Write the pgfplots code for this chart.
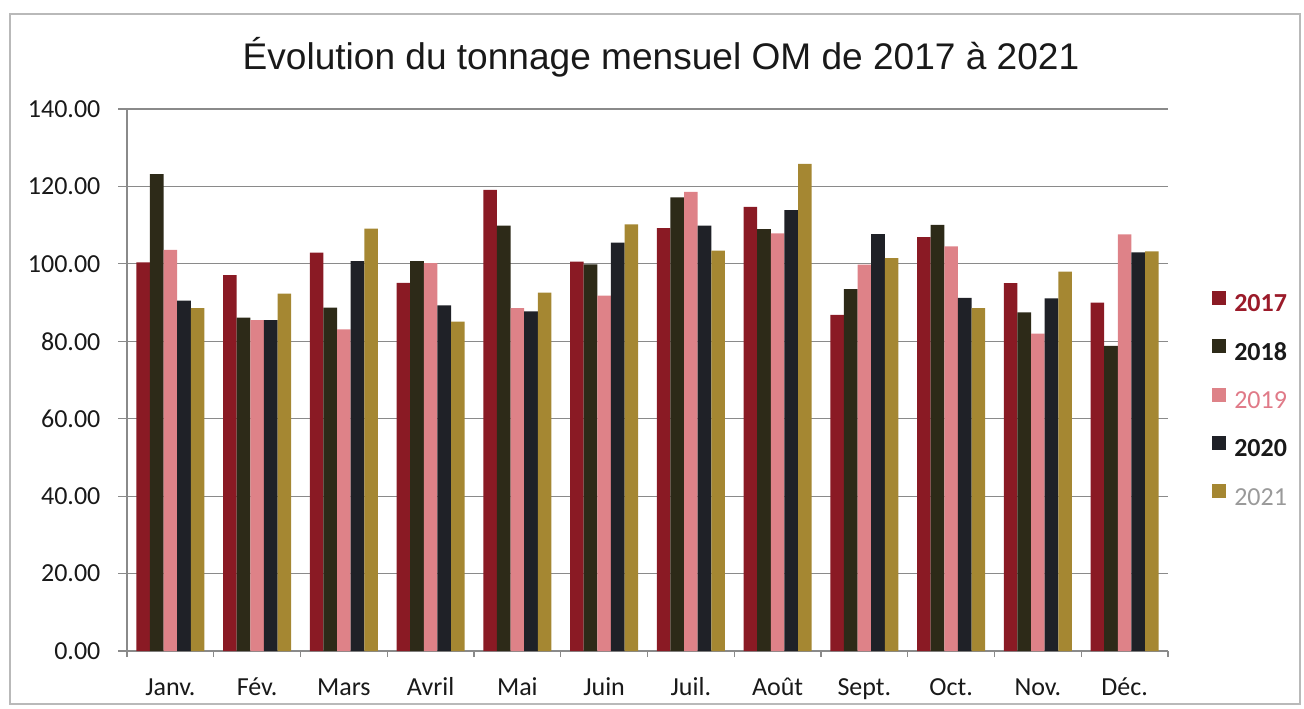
\documentclass[border=0pt]{standalone}
\usepackage{pgfplots}
\pgfplotsset{compat=1.18}
\usepackage{fontspec}
\setmainfont{Carlito}
\newfontfamily\titlefont{Liberation Sans}

\definecolor{c2017}{HTML}{8A1A24}
\definecolor{c2018}{HTML}{2D2A18}
\definecolor{c2019}{HTML}{DE8288}
\definecolor{c2020}{HTML}{1F2127}
\definecolor{c2021}{HTML}{A58732}
\definecolor{t2017}{HTML}{9B1B2A}
\definecolor{t2019}{HTML}{E07A88}
\definecolor{t2021}{HTML}{9A9A9A}
\definecolor{gridc}{HTML}{8A8A8A}

\begin{document}
\begin{tikzpicture}
  \path[use as bounding box] (0,0) rectangle (978pt,-531pt);
  \draw[gray!55, line width=0.9pt] (7.5pt,-10.5pt) rectangle (975pt,-528pt);
  \node[font=\titlefont\fontsize{27.8}{32}\selectfont, text=black!90] at (495.75pt,-42.75pt)
    {Évolution du tonnage mensuel OM de 2017 à 2021};
  \begin{axis}[
      at={(95.25pt,-488.25pt)}, anchor=south west,
      scale only axis, width=780.75pt, height=406.5pt,
      ybar=0pt, bar width=10.2pt,
      xmin=-0.5, xmax=11.5, ymin=0, ymax=140,
      axis x line*=bottom, axis y line*=left,
      axis line style={gridc, line width=0.8pt},
      ytick={0,20,...,140},
      ymajorgrids, grid style={gridc, line width=0.8pt},
      /pgf/number format/fixed, /pgf/number format/fixed zerofill, /pgf/number format/precision=2,
      /pgf/number format/assume math mode=true,
      tick align=outside,
      major y tick style={gridc, line width=0.8pt},
      major tick length=6.75pt,
      ticklabel style={font=\fontsize{19.5}{22}\selectfont, text=black!90},
      yticklabel style={inner xsep=13pt},
      xtick={0,...,11},
      xticklabels={Janv., Fév., Mars, Avril, Mai, Juin, Juil., Août, Sept., Oct., Nov., Déc.},
      major x tick style={draw=none},
      xticklabel style={anchor=north, text height=15pt, text depth=4pt, yshift=-8pt},
      extra x ticks={-0.5,0.5,...,11.5}, extra x tick labels={},
      extra x tick style={major tick length=4.5pt, major x tick style={draw=gridc, line width=0.8pt}, xmajorgrids=false},
      legend style={draw=none, fill=none, at={(1.0423,0.4668)}, anchor=west,
        font=\fontsize{19.5}{22}\selectfont, inner sep=0pt,
        nodes={inner sep=0pt, text height=12.5pt, text depth=0pt},
        row sep=20.5pt, column sep=6pt},
      legend cell align=left,
      legend image code/.code={\fill[#1] (0pt,-1pt) rectangle (10.5pt,9.5pt);},
    ]
    \addplot[fill=c2017, draw=none] coordinates {(0,100.4) (1,97.1) (2,102.9) (3,95.1) (4,119.1) (5,100.6) (6,109.2) (7,114.7) (8,86.8) (9,106.9) (10,95.0) (11,90.0)};
    \addlegendentry{\textcolor{t2017}{\bfseries 2017}}
    \addplot[fill=c2018, draw=none] coordinates {(0,123.2) (1,86.1) (2,88.7) (3,100.7) (4,109.9) (5,99.9) (6,117.2) (7,109.0) (8,93.5) (9,110.1) (10,87.5) (11,78.8)};
    \addlegendentry{\textcolor{black!90}{\bfseries 2018}}
    \addplot[fill=c2019, draw=none] coordinates {(0,103.6) (1,85.5) (2,83.1) (3,100.2) (4,88.6) (5,91.8) (6,118.6) (7,107.9) (8,99.8) (9,104.5) (10,82.0) (11,107.6)};
    \addlegendentry{\textcolor{t2019}{2019}}
    \addplot[fill=c2020, draw=none] coordinates {(0,90.5) (1,85.5) (2,100.7) (3,89.3) (4,87.7) (5,105.5) (6,109.9) (7,113.9) (8,107.7) (9,91.2) (10,91.1) (11,103.0)};
    \addlegendentry{\textcolor{black!90}{\bfseries 2020}}
    \addplot[fill=c2021, draw=none] coordinates {(0,88.6) (1,92.3) (2,109.1) (3,85.1) (4,92.6) (5,110.2) (6,103.4) (7,125.8) (8,101.5) (9,88.6) (10,98.0) (11,103.2)};
    \addlegendentry{\textcolor{t2021}{2021}}
  \end{axis}
\end{tikzpicture}
\end{document}
